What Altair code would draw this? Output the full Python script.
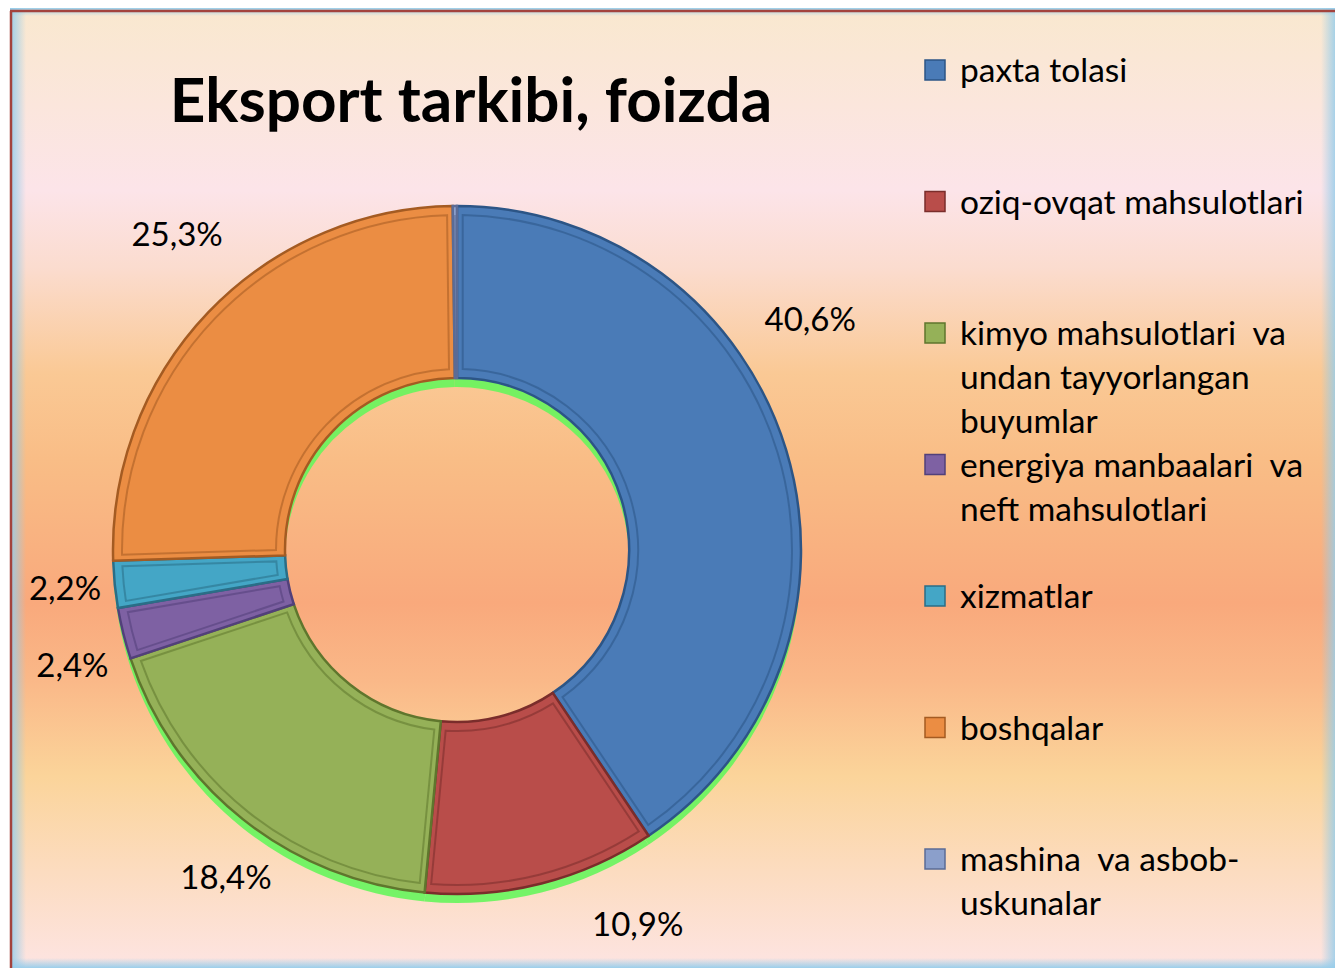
import altair as alt
import pandas as pd

# ---- data ----
categories = [
    "paxta tolasi",
    "oziq-ovqat mahsulotlari",
    "kimyo mahsulotlari va undan tayyorlangan buyumlar",
    "energiya manbaalari va neft mahsulotlari",
    "xizmatlar",
    "boshqalar",
    "mashina va asbob-uskunalar",
]
legend_labels = [
    "paxta tolasi",
    "oziq-ovqat mahsulotlari",
    "kimyo mahsulotlari\u00a0 va\nundan tayyorlangan\nbuyumlar",
    "energiya manbaalari\u00a0 va\nneft mahsulotlari",
    "xizmatlar",
    "boshqalar",
    "mashina\u00a0 va asbob-\nuskunalar",
]
shares = [40.6, 10.9, 18.4, 2.4, 2.2, 25.3, 0.2]
value_labels = ["40,6%", "10,9%", "18,4%", "2,4%", "2,2%", "25,3%", ""]

slice_colors = ["#4a7bb7", "#b94d4a", "#95b158", "#7e61a3", "#44a6c6", "#eb8d43", "#8b9fcb"]
edge_colors = ["#2c5586", "#7a2d2b", "#5f762d", "#52407a", "#2a6e87", "#a45b22", "#5b6c96"]

df = pd.DataFrame({
    "cat": categories,
    "leg": legend_labels,
    "share": shares,
    "vlabel": value_labels,
    "idx": list(range(len(categories))),
})
one = pd.DataFrame({"a": [0]})

W, H = 1327, 960
CX, CY = 447, 542
R_OUT, R_IN = 344, 172
FONT = "Lato"

color_scale = alt.Scale(domain=categories, range=slice_colors)
stroke_scale = alt.Scale(domain=categories, range=edge_colors)
theta = alt.Theta("share:Q", stack=True)
order = alt.Order("idx:Q")

# ---- background ----
bg_grad = alt.Gradient(
    gradient="linear", x1=0, x2=0, y1=0, y2=1,
    stops=[
        alt.GradientStop(color="#f9e8cf", offset=0.0),
        alt.GradientStop(color="#fbe6dc", offset=0.10),
        alt.GradientStop(color="#fce4e9", offset=0.19),
        alt.GradientStop(color="#fbdccf", offset=0.27),
        alt.GradientStop(color="#fac995", offset=0.38),
        alt.GradientStop(color="#f9bd86", offset=0.47),
        alt.GradientStop(color="#f9a97c", offset=0.62),
        alt.GradientStop(color="#fab888", offset=0.70),
        alt.GradientStop(color="#fbd49a", offset=0.80),
        alt.GradientStop(color="#fcdcc0", offset=0.90),
        alt.GradientStop(color="#fde4e2", offset=1.0),
    ],
)
background = alt.Chart(one).mark_rect(fill=bg_grad).encode(
    x=alt.value(0), x2=alt.value(W), y=alt.value(0), y2=alt.value(H)
)

def edge(x1, x2, y1, y2, horizontal, reverse):
    glow = "rgba(150,205,235,0.95)"
    clear = "rgba(150,205,235,0)"
    stops = [alt.GradientStop(color=glow, offset=0), alt.GradientStop(color=clear, offset=1)]
    if reverse:
        stops = [alt.GradientStop(color=clear, offset=0), alt.GradientStop(color=glow, offset=1)]
    g = alt.Gradient(gradient="linear",
                     x1=0, x2=1 if horizontal else 0,
                     y1=0, y2=0 if horizontal else 1, stops=stops)
    return alt.Chart(one).mark_rect(fill=g).encode(
        x=alt.value(x1), x2=alt.value(x2), y=alt.value(y1), y2=alt.value(y2))

edges = [
    edge(0, 16, 0, H, True, False),
    edge(W - 16, W, 0, H, True, True),
    edge(0, W, H - 10, H, False, True),
    edge(0, W, 0, 8, False, False),
]
frame_top = alt.Chart(one).mark_rule(color="#a3433d", strokeWidth=2.5).encode(
    x=alt.value(0), x2=alt.value(W), y=alt.value(3))
frame_left = alt.Chart(one).mark_rule(color="#a3433d", strokeWidth=2.5).encode(
    x=alt.value(1), y=alt.value(3), y2=alt.value(H))

# ---- title ----
title = alt.Chart(one).mark_text(
    text="Eksport tarkibi, foizda", font=FONT, fontWeight="bold", fontSize=62,
    align="center", baseline="middle", color="black",
).encode(x=alt.value(461), y=alt.value(95))

# ---- donut ----
glow = alt.Chart(df).mark_arc(
    innerRadius=R_IN, outerRadius=R_OUT, color="#66f55c", opacity=0.9
).encode(theta=theta, order=order, x=alt.value(CX), y=alt.value(CY + 9))

arcs = alt.Chart(df).mark_arc(
    innerRadius=R_IN, outerRadius=R_OUT, strokeWidth=2.5
).encode(
    theta=theta, order=order,
    color=alt.Color("cat:N", scale=color_scale, legend=None),
    stroke=alt.Stroke("cat:N", scale=stroke_scale, legend=None),
    x=alt.value(CX), y=alt.value(CY),
)

bevel = alt.Chart(df).mark_arc(
    innerRadius=R_IN + 9, outerRadius=R_OUT - 9, padAngle=0.03,
    fillOpacity=0, strokeWidth=2, strokeOpacity=0.55,
).encode(
    theta=theta, order=order,
    stroke=alt.Stroke("cat:N", scale=stroke_scale, legend=None),
    x=alt.value(CX), y=alt.value(CY),
)

def value_text(cat, radius, theta_offset):
    return alt.Chart(df).mark_text(
        radius=radius, thetaOffset=theta_offset, font=FONT, fontSize=33,
        color="black", align="center", baseline="middle",
    ).encode(
        theta=theta, order=order,
        text=alt.condition(alt.datum.cat == cat, alt.Text("vlabel:N"), alt.value("")),
        x=alt.value(CX), y=alt.value(CY),
    )

# label placement nudges (radius px, angular offset rad) mimicking the reference layout
label_layers = [
    value_text(categories[0], 421, -0.28),
    value_text(categories[1], 417, -0.2),
    value_text(categories[2], 402, -0.06),
    value_text(categories[3], 402, -0.05),
    value_text(categories[4], 394, 0.0),
    value_text(categories[5], 421, 0.08),
]

# ---- legend ----
yscale = alt.Scale(type="point", domain=categories, range=[62, 851], padding=0)
leg_sym = alt.Chart(df).mark_square(size=400, strokeWidth=1.5, opacity=1).encode(
    x=alt.value(925),
    y=alt.Y("cat:N", scale=yscale, axis=None),
    color=alt.Color("cat:N", scale=color_scale, legend=None),
    stroke=alt.Stroke("cat:N", scale=stroke_scale, legend=None),
)
leg_txt = alt.Chart(df).mark_text(
    align="left", baseline="top", lineBreak="\n", font=FONT, fontSize=33.5,
    lineHeight=44, dy=-14, color="black",
).encode(
    x=alt.value(950),
    y=alt.Y("cat:N", scale=yscale, axis=None),
    text="leg:N",
)

chart = alt.layer(
    background, *edges, frame_top, frame_left, title,
    glow, arcs, bevel, *label_layers,
    leg_sym, leg_txt,
).properties(
    width=W, height=H,
    autosize=alt.AutoSizeParams(type="fit", contains="padding"),
    padding=0,
).configure_view(stroke=None)

chart.save("out.html", embed_options={"renderer": "svg", "actions": False})
